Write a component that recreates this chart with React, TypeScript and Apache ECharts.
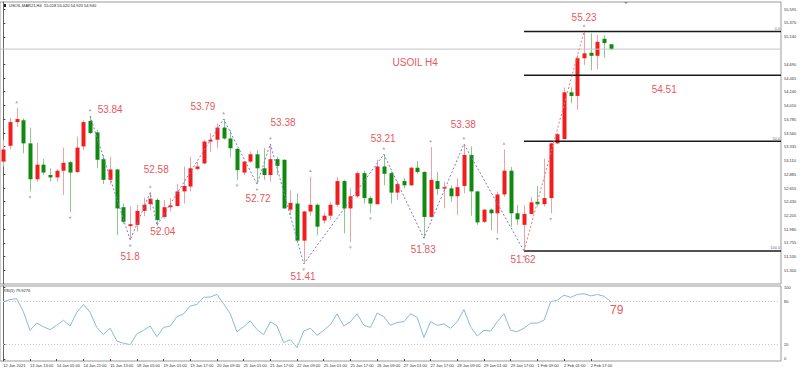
import React, { useEffect, useRef } from 'react';
import * as echarts from 'echarts';

// H4 candles (index 0 = 12 Jan 21:00)
const opens = [53.09,53.35,53.74,53.77,53.39,52.80,53.04,52.87,52.83,52.94,53.08,52.92,53.34,53.76,53.57,53.13,52.79,52.96,52.34,52.03,52.05,52.28,52.39,52.46,52.18,52.34,52.36,52.60,52.68,52.97,53.06,53.42,53.45,53.65,53.47,53.30,52.91,53.09,53.21,52.98,52.87,53.13,53.12,52.30,52.40,51.79,52.27,52.38,52.12,52.20,52.38,52.77,52.32,52.52,52.90,52.49,52.39,53.01,52.90,52.58,52.77,52.70,52.99,52.92,52.18,52.77,52.66,52.65,52.52,52.69,53.20,52.60,52.10,52.30,52.24,52.55,52.94,52.24,52.05,52.23,52.43,52.39,52.49,53.39,53.46,54.23,54.17,54.79,54.88,54.83,55.11,55.02];
const highs = [53.45,53.81,53.97,53.80,53.65,53.40,53.14,52.98,52.97,53.32,53.10,53.50,53.77,53.84,53.61,53.20,53.17,52.97,52.40,52.35,52.38,52.50,52.58,52.49,52.46,52.49,52.72,53.01,53.17,53.09,53.45,53.56,53.72,53.79,53.61,53.31,53.10,53.26,53.28,53.31,53.38,53.17,53.13,52.62,52.57,52.28,52.84,52.40,52.25,52.43,52.84,52.79,52.65,52.93,52.94,52.52,53.12,53.21,52.93,52.77,52.82,53.00,53.10,52.93,53.33,52.92,52.76,52.70,52.81,53.38,53.34,52.61,52.31,52.32,52.60,53.29,53.00,52.38,52.38,52.51,52.69,53.14,53.40,53.56,54.31,54.31,54.84,55.23,55.20,55.17,55.17,55.02];
const lows = [53.01,53.29,53.66,53.23,52.60,52.76,52.87,52.76,52.76,52.54,52.26,52.90,53.28,53.54,52.98,52.72,52.71,51.88,52.07,51.80,51.94,52.19,52.29,52.04,52.15,52.27,52.35,52.40,52.60,52.95,53.05,53.25,53.31,53.45,53.17,52.79,52.87,53.07,52.72,52.79,52.76,52.87,52.31,52.21,51.75,51.41,52.19,51.88,52.07,52.13,52.34,51.91,51.77,52.49,52.40,52.25,52.38,52.70,52.40,52.46,52.65,52.69,52.89,51.83,52.17,52.54,52.32,52.43,52.21,52.57,52.20,52.05,52.08,51.96,51.91,52.51,52.02,52.05,51.62,52.22,52.35,52.35,52.24,53.38,53.46,54.05,53.94,54.68,54.59,54.61,54.80,54.92];
const closes = [53.29,53.74,53.79,53.39,52.80,53.04,52.91,52.83,52.94,53.07,52.91,53.32,53.74,53.56,53.12,52.79,52.96,52.32,52.10,52.06,52.28,52.38,52.48,52.13,52.34,52.37,52.60,52.69,52.98,53.01,53.42,53.45,53.65,53.47,53.31,52.95,53.09,53.21,52.98,52.87,53.13,53.02,52.32,52.41,51.79,52.27,52.38,52.02,52.20,52.38,52.77,52.32,52.52,52.90,52.49,52.40,53.01,52.89,52.58,52.72,52.70,52.99,52.92,52.18,52.79,52.64,52.67,52.52,52.67,53.20,52.60,52.09,52.30,52.24,52.55,52.94,52.24,52.14,52.23,52.42,52.39,52.49,53.39,53.54,54.23,54.17,54.79,54.87,54.83,55.06,55.04,54.94];

// RSI(5)
const rsi = [79.6,83,84,66,40,50,45,41,47,54,46,65,76,65,44,34,43,25,22,20,35,40,46,31,44,46,59,63,74,76,86,86.5,90,77,63,38,45,53,41,34,52,46,23,27,16,39,43,33,40,48,63,46,52,63,47,44,64,59,47,51,52,63,58,30,52,47,49,43,52,69,45,32,40,39,52,63,40,38,43,50,50,54,80,82,89,86,90,91,88,90,87.5,79.93];

const tickLabels = ['12 Jan 2021','13 Jan 13:00','14 Jan 05:00','14 Jan 21:00','15 Jan 13:00','18 Jan 05:00','19 Jan 01:00','19 Jan 17:00','20 Jan 09:00','21 Jan 01:00','21 Jan 17:00','22 Jan 09:00','25 Jan 01:00','25 Jan 17:00','26 Jan 09:00','27 Jan 01:00','27 Jan 17:00','28 Jan 09:00','29 Jan 01:00','29 Jan 17:00','1 Feb 09:00','2 Feb 01:00','2 Feb 17:00'];
const priceTicks = [55.595,55.370,55.140,54.690,54.465,54.240,54.010,53.785,53.560,53.335,53.110,52.885,52.655,52.430,52.205,51.980,51.755,51.530,51.300,51.075];
const rsiTicks = [0,20,80,100];

const zigzagIdx = [13,19,22,23,33,38,40,45,57,63,69,78];
const zigzagPrice = [53.84,51.80,52.58,52.04,53.79,52.72,53.38,51.41,53.21,51.83,53.38,51.62];
const fibLegIdx = [78,87];
const fibLegPrice = [51.62,55.23];
const fibLevelPrice = [55.23,54.51,53.425,51.62];
const fibLevelText = ['0.0','','50.0','100.0'];
const fractalUp = [2,13,22,33,40,46,57,64,69,75,87];
const fractalDown = [4,10,19,23,35,38,45,52,55,63,74,78,82];

const noteText = ['53.84','53.79','53.38','53.21','53.38','55.23','52.58','52.72','52.04','51.8','51.41','51.83','51.62','USOIL H4','54.51'];
const noteIdx = [16,29.9,41.9,56.9,68.9,87,22.9,38.15,23.9,19,44.9,62.9,77.85,61.7,99];
const notePrice = [53.955,54.004,53.741,53.478,53.708,55.46,52.952,52.491,51.937,51.537,51.208,51.652,51.488,54.728,54.284];
const rsiNote = { text: '79', idx: 91.9, value: 69 };
const currentPrice = 54.94;

const UP = '#f21d1d';
const DOWN = '#0f8a0f';
const UP_WICK = '#eea3a3';
const DOWN_WICK = '#8cc78c';
const RED_TEXT = '#e4262b';
const XMIN = -0.5;
const XMAX = 116.5;

export default function App() {
  const ref = useRef<HTMLDivElement>(null);
  useEffect(() => {
    if (!ref.current) return;
    const chart = echarts.init(ref.current, undefined, { renderer: 'svg' });
    const candles = opens.map((o, i) => [i, o, closes[i], lows[i], highs[i]]);
    const tickPos = tickLabels.map((_, k) => k * 4);
    const tiny = { fontSize: 4, color: '#333', fontFamily: 'Liberation Sans, Arial, sans-serif' };

    chart.setOption({
      animation: false,
      backgroundColor: '#ffffff',
      grid: [
        { left: 0, top: 2, width: 781, height: 282, show: true, borderColor: '#9a9a9a', borderWidth: 1, backgroundColor: '#fff' },
        { left: 0, top: 286, width: 781, height: 75, show: true, borderColor: '#9a9a9a', borderWidth: 1, backgroundColor: '#fff' },
      ],
      xAxis: [
        { type: 'value', gridIndex: 0, min: XMIN, max: XMAX, show: false },
        {
          type: 'value', gridIndex: 1, min: XMIN, max: XMAX,
          axisLine: { show: false },
          splitLine: { show: false },
          axisTick: { show: true, customValues: tickPos, length: 2, lineStyle: { color: '#444' } },
          axisLabel: {
            customValues: tickPos, ...tiny, margin: 2, align: 'left',
            formatter: (v: number) => tickLabels[Math.round(v / 4)] ?? '',
          },
        },
      ],
      yAxis: [
        {
          type: 'value', gridIndex: 0, min: 51.077, max: 55.715, position: 'right',
          axisLine: { show: true, lineStyle: { color: '#666' } },
          splitLine: { show: false },
          axisTick: { show: true, customValues: priceTicks, length: 2, lineStyle: { color: '#444' } },
          axisLabel: { customValues: priceTicks, ...tiny, margin: 3, formatter: (v: number) => v.toFixed(3) },
        },
        {
          type: 'value', gridIndex: 1, min: -2.8, max: 101.8, position: 'right',
          axisLine: { show: true, lineStyle: { color: '#666' } },
          splitLine: { show: false },
          axisTick: { show: true, customValues: rsiTicks, length: 2, lineStyle: { color: '#444' } },
          axisLabel: { customValues: rsiTicks, ...tiny, margin: 3 },
        },
      ],
      series: [
        {
          type: 'line', xAxisIndex: 0, yAxisIndex: 0, silent: true, symbol: 'none',
          data: [[XMIN, currentPrice], [XMAX, currentPrice]],
          lineStyle: { color: '#c4c4c4', width: 1 },
          markLine: {
            silent: true, symbol: 'none', lineStyle: { opacity: 0 },
            data: [{ yAxis: currentPrice }],
            label: { position: 'end', distance: 1, formatter: currentPrice.toFixed(3), color: '#fff', backgroundColor: '#111', padding: [1, 2], fontSize: 4, fontFamily: 'Liberation Sans, Arial' },
          },
        },
        ...fibLevelPrice.map((p, k) => ({
          type: 'line', xAxisIndex: 0, yAxisIndex: 0, silent: true, symbol: 'none',
          data: [[fibLegIdx[0], p], [XMAX, p]],
          lineStyle: { color: '#1a1a1a', width: 1.6 },
        })),
        {
          type: 'scatter', xAxisIndex: 0, yAxisIndex: 0, silent: true, symbolSize: 0,
          data: fibLevelPrice.map((p, k) => [XMAX - 0.1, p, fibLevelText[k]]),
          label: { show: true, position: [0, -1], align: 'right', verticalAlign: 'bottom', formatter: (d: any) => d.value[2], fontSize: 4, color: '#335', fontFamily: 'Liberation Sans, Arial' },
        },
        {
          type: 'line', xAxisIndex: 0, yAxisIndex: 0, silent: true, symbol: 'none',
          data: zigzagIdx.map((x, k) => [x, zigzagPrice[k]]),
          lineStyle: { color: '#7b7bc4', width: 1, type: [2, 2] },
        },
        {
          type: 'line', xAxisIndex: 0, yAxisIndex: 0, silent: true, symbol: 'none',
          data: fibLegIdx.map((x, k) => [x, fibLegPrice[k]]),
          lineStyle: { color: '#e07a7a', width: 1, type: [2, 2] },
        },
        {
          type: 'custom', xAxisIndex: 0, yAxisIndex: 0, silent: true,
          data: candles,
          encode: { x: 0, y: [1, 2, 3, 4] },
          renderItem: (params: any, api: any) => {
            const x = api.value(0);
            const o = api.value(1), c = api.value(2), l = api.value(3), h = api.value(4);
            const pO = api.coord([x, o]);
            const pC = api.coord([x, c]);
            const pL = api.coord([x, l]);
            const pH = api.coord([x, h]);
            const up = c >= o;
            const cx = Math.round(pO[0]) + 0.5;
            const bw = 4;
            const top = Math.min(pO[1], pC[1]);
            const hh = Math.max(1.5, Math.abs(pO[1] - pC[1]));
            return {
              type: 'group',
              children: [
                { type: 'line', shape: { x1: cx, y1: pH[1], x2: cx, y2: pL[1] }, style: { stroke: up ? UP_WICK : DOWN_WICK, lineWidth: 1 } },
                { type: 'rect', shape: { x: cx - bw / 2, y: top, width: bw, height: hh }, style: { fill: up ? UP : DOWN } },
              ],
            };
          },
        },
        {
          type: 'scatter', xAxisIndex: 0, yAxisIndex: 0, silent: true,
          symbol: 'triangle', symbolSize: [3, 2.5], symbolOffset: [0, -6],
          itemStyle: { color: '#9a9a9a' },
          data: fractalUp.map((i) => [i, highs[i]]),
        },
        {
          type: 'scatter', xAxisIndex: 0, yAxisIndex: 0, silent: true,
          symbol: 'triangle', symbolRotate: 180, symbolSize: [3, 2.5], symbolOffset: [0, 6],
          itemStyle: { color: '#9a9a9a' },
          data: fractalDown.map((i) => [i, lows[i]]),
        },
        {
          type: 'scatter', xAxisIndex: 0, yAxisIndex: 0, silent: true, symbolSize: 0,
          data: noteIdx.map((x, k) => [x, notePrice[k], noteText[k]]),
          label: {
            show: true, position: [0, 0], align: 'center', verticalAlign: 'middle',
            formatter: (d: any) => d.value[2], color: RED_TEXT, fontSize: 10, fontFamily: 'Liberation Sans, Arial, sans-serif',
          },
        },
        {
          type: 'line', xAxisIndex: 1, yAxisIndex: 1, silent: true, symbol: 'none',
          data: rsi.map((v, i) => [i, v]),
          lineStyle: { color: '#86badf', width: 1 },
          markLine: {
            silent: true, symbol: 'none', label: { show: false },
            lineStyle: { color: '#c8c8c8', type: [1, 2], width: 1 },
            data: [{ yAxis: 20 }, { yAxis: 80 }],
          },
        },
        {
          type: 'scatter', xAxisIndex: 1, yAxisIndex: 1, silent: true, symbolSize: 0,
          data: [[rsiNote.idx, rsiNote.value, rsiNote.text]],
          label: {
            show: true, position: [0, 0], align: 'center', verticalAlign: 'middle',
            formatter: (d: any) => d.value[2], color: RED_TEXT, fontSize: 12, fontFamily: 'Liberation Sans, Arial, sans-serif',
          },
        },
      ],
      graphic: [
        { type: 'rect', shape: { x: 3, y: 4, width: 3, height: 3 }, style: { fill: '#222' } },
        { type: 'text', x: 9, y: 3.5, style: { text: 'USOIL,MAR21,H4  55.018 55.020 54.923 54.940', fontSize: 4, fill: '#222', fontFamily: 'Liberation Sans, Arial' } },
        { type: 'text', x: 3, y: 288, style: { text: 'RSI(5) 79.9276', fontSize: 4, fill: '#222', fontFamily: 'Liberation Sans, Arial' } },
        { type: 'polygon', shape: { points: [[624, 2], [628, 2], [626, 4]] }, style: { fill: '#888' } },
      ],
    });
    return () => chart.dispose();
  }, []);
  return <div ref={ref} style={{ position: 'fixed', left: 0, top: 0, width: 800, height: 371, background: '#fff' }} />;
}
